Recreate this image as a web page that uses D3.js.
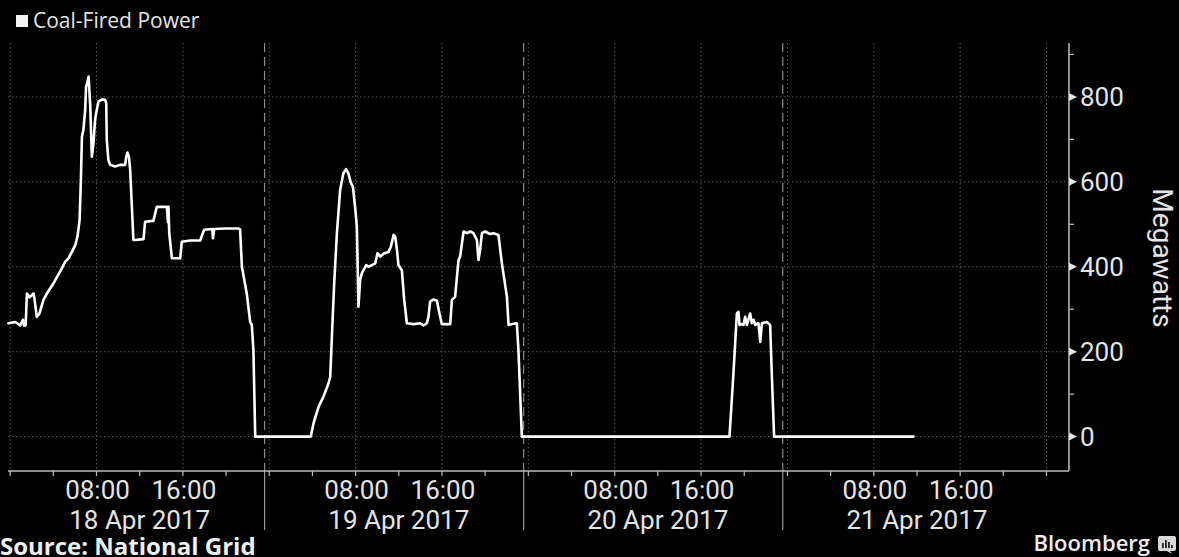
<!DOCTYPE html>
<html>
<head>
<meta charset="utf-8">
<script src="https://cdn.jsdelivr.net/npm/d3@7"></script>
<style>
  html, body { margin: 0; padding: 0; background: #000; }
  svg { display: block; }
  text { font-family: "Open Sans", "Noto Sans", sans-serif; }
  text.axis-label { font-family: Roboto, "Open Sans", sans-serif; }
</style>
</head>
<body>
<svg id="chart" width="1179" height="557"></svg>
<script>
// Coal-fired generation on the GB grid, 18–21 April 2017 (megawatts)
const seriesName = "Coal-Fired Power";

const readingTimes = [
  "2017-04-17 23:50", "2017-04-18 00:28", "2017-04-18 00:56", "2017-04-18 01:11", "2017-04-18 01:18",
  "2017-04-18 01:26", "2017-04-18 01:33", "2017-04-18 01:47", "2017-04-18 02:01", "2017-04-18 02:10",
  "2017-04-18 02:15", "2017-04-18 02:28", "2017-04-18 02:43", "2017-04-18 03:05", "2017-04-18 03:24",
  "2017-04-18 04:01", "2017-04-18 04:47", "2017-04-18 05:06", "2017-04-18 05:24", "2017-04-18 05:43",
  "2017-04-18 06:02", "2017-04-18 06:14", "2017-04-18 06:26", "2017-04-18 06:33", "2017-04-18 06:39",
  "2017-04-18 06:47", "2017-04-18 06:57", "2017-04-18 07:02", "2017-04-18 07:10", "2017-04-18 07:16",
  "2017-04-18 07:25", "2017-04-18 07:34", "2017-04-18 07:43", "2017-04-18 07:52", "2017-04-18 07:58",
  "2017-04-18 08:11", "2017-04-18 08:30", "2017-04-18 08:48", "2017-04-18 08:54", "2017-04-18 08:57",
  "2017-04-18 09:06", "2017-04-18 09:16", "2017-04-18 09:44", "2017-04-18 10:11", "2017-04-18 10:39",
  "2017-04-18 10:45", "2017-04-18 10:52", "2017-04-18 11:00", "2017-04-18 11:07", "2017-04-18 11:25",
  "2017-04-18 11:35", "2017-04-18 12:21", "2017-04-18 12:30", "2017-04-18 13:16", "2017-04-18 13:35",
  "2017-04-18 14:31", "2017-04-18 14:37", "2017-04-18 14:40", "2017-04-18 14:44", "2017-04-18 14:59",
  "2017-04-18 15:45", "2017-04-18 15:54", "2017-04-18 16:40", "2017-04-18 17:36", "2017-04-18 17:58",
  "2017-04-18 18:43", "2017-04-18 18:47", "2017-04-18 18:54", "2017-04-18 19:55", "2017-04-18 21:09",
  "2017-04-18 21:18", "2017-04-18 21:28", "2017-04-18 21:55", "2017-04-18 22:14", "2017-04-18 22:23",
  "2017-04-18 22:32", "2017-04-18 22:42",
  "2017-04-19 03:51", "2017-04-19 04:06", "2017-04-19 04:34", "2017-04-19 05:01", "2017-04-19 05:29",
  "2017-04-19 05:39", "2017-04-19 05:48", "2017-04-19 06:01", "2017-04-19 06:16", "2017-04-19 06:34",
  "2017-04-19 06:52", "2017-04-19 07:07", "2017-04-19 07:20", "2017-04-19 07:34", "2017-04-19 07:45",
  "2017-04-19 07:57", "2017-04-19 08:07", "2017-04-19 08:16", "2017-04-19 08:25", "2017-04-19 08:35",
  "2017-04-19 08:44", "2017-04-19 08:59", "2017-04-19 09:11", "2017-04-19 09:30", "2017-04-19 09:49",
  "2017-04-19 10:02", "2017-04-19 10:17", "2017-04-19 10:39", "2017-04-19 11:03", "2017-04-19 11:16",
  "2017-04-19 11:31", "2017-04-19 11:40", "2017-04-19 11:50", "2017-04-19 11:58", "2017-04-19 12:17",
  "2017-04-19 12:30", "2017-04-19 12:45", "2017-04-19 13:22", "2017-04-19 13:59", "2017-04-19 14:17",
  "2017-04-19 14:36", "2017-04-19 14:45", "2017-04-19 14:54", "2017-04-19 15:13", "2017-04-19 15:32",
  "2017-04-19 15:46", "2017-04-19 15:59", "2017-04-19 16:46", "2017-04-19 16:55", "2017-04-19 17:13",
  "2017-04-19 17:32", "2017-04-19 17:41", "2017-04-19 18:00", "2017-04-19 18:18", "2017-04-19 18:37",
  "2017-04-19 18:55", "2017-04-19 19:14", "2017-04-19 19:23", "2017-04-19 19:32", "2017-04-19 19:42",
  "2017-04-19 20:00", "2017-04-19 20:28", "2017-04-19 20:46", "2017-04-19 21:14", "2017-04-19 21:33",
  "2017-04-19 22:01", "2017-04-19 22:10", "2017-04-19 22:30", "2017-04-19 22:56", "2017-04-19 23:05",
  "2017-04-19 23:24",
  "2017-04-20 18:38", "2017-04-20 19:00", "2017-04-20 19:19", "2017-04-20 19:28", "2017-04-20 19:34",
  "2017-04-20 19:47", "2017-04-20 19:56", "2017-04-20 20:05", "2017-04-20 20:15", "2017-04-20 20:33",
  "2017-04-20 20:42", "2017-04-20 20:52", "2017-04-20 21:01", "2017-04-20 21:19", "2017-04-20 21:29",
  "2017-04-20 21:38", "2017-04-20 22:06", "2017-04-20 22:24", "2017-04-20 22:33", "2017-04-20 22:46",
  "2017-04-21 11:41"
];

const coalMW = [
  267, 270, 262, 275, 261,
  262, 337, 328, 333, 337,
  325, 282, 290, 322, 337,
  361, 396, 412, 420, 435,
  451, 471, 510, 604, 706,
  722, 769, 824, 836, 848,
  780, 659, 691, 746, 762,
  789, 794, 793, 785, 699,
  651, 640, 636, 640, 640,
  659, 669, 659, 628, 463,
  463, 465, 506, 508, 541,
  541, 505, 541, 480, 420,
  420, 459, 462, 462, 487,
  489, 467, 489, 490, 490,
  488, 400, 337, 270, 263,
  204, 0,
  0, 31, 70, 94, 125,
  141, 235, 361, 479, 581,
  620, 630, 620, 597, 589,
  541, 494, 306, 369, 385,
  392, 404, 400, 404, 408,
  432, 424, 432, 435, 447,
  475, 471, 439, 404, 392,
  322, 267, 265, 267, 262,
  267, 282, 318, 323, 320,
  290, 265, 265, 322, 329,
  416, 424, 483, 479, 483,
  479, 463, 416, 440, 479,
  483, 477, 479, 475, 408,
  329, 263, 265, 267, 204,
  0,
  0, 149, 290, 294, 263,
  265, 263, 282, 263, 290,
  267, 275, 263, 267, 223,
  267, 270, 263, 149, 0,
  0
];

const axisStart = "2017-04-17 23:48";
const axisEnd = "2017-04-22 02:05";
const chartDays = ["2017-04-18", "2017-04-19", "2017-04-20", "2017-04-21"];
const dayLabels = ["18 Apr 2017", "19 Apr 2017", "20 Apr 2017", "21 Apr 2017"];
const hourLabels = ["08:00", "16:00"];
const yMajorTicks = [0, 200, 400, 600, 800];
const yMinorTicks = [100, 300, 500, 700, 900];
const yDomain = [-81, 927];
const yTitle = "Megawatts";
const sourceNote = "Source: National Grid";
const brand = "Bloomberg";

// ---- layout ----
const W = 1179, H = 557;
const plot = { left: 8, right: 1069, top: 43, bottom: 471 };
const separatorLeadMinutes = 26;   // day dividers sit just before midnight

const parseTime = d3.timeParse("%Y-%m-%d %H:%M");
const parseDay = d3.timeParse("%Y-%m-%d");

const series = readingTimes.map((t, i) => ({ t: parseTime(t), v: coalMW[i] }));

const x = d3.scaleTime()
  .domain([parseTime(axisStart), parseTime(axisEnd)])
  .range([plot.left, plot.right]);
const y = d3.scaleLinear().domain(yDomain).range([plot.bottom, plot.top]);

const svg = d3.select("#chart");
svg.append("rect").attr("width", W).attr("height", H).attr("fill", "#000");

const textColor = "#e4e4e4";

// ---- grid ----
const grid = svg.append("g");
grid.selectAll("line.hgrid").data(yMajorTicks).join("line")
  .attr("x1", plot.left).attr("x2", plot.right)
  .attr("y1", d => y(d)).attr("y2", d => y(d))
  .attr("stroke", "#5a5a5a").attr("stroke-width", 1).attr("stroke-dasharray", "1.5,2.5");

const [d0, d1] = x.domain();
const eightHour = d3.timeHour.every(8).range(d0, d1);
grid.selectAll("line.vgrid").data(eightHour).join("line")
  .attr("x1", d => x(d)).attr("x2", d => x(d))
  .attr("y1", plot.top).attr("y2", plot.bottom)
  .attr("stroke", "#5a5a5a").attr("stroke-width", 1).attr("stroke-dasharray", "1.5,2.5");

// day dividers: dashed inside the plot, solid through the label band
const dividers = chartDays.slice(1).map(d => d3.timeMinute.offset(parseDay(d), -separatorLeadMinutes));
grid.selectAll("line.divider").data(dividers).join("line")
  .attr("x1", d => x(d)).attr("x2", d => x(d))
  .attr("y1", plot.top).attr("y2", plot.bottom)
  .attr("stroke", "#8a8a8a").attr("stroke-width", 1.2).attr("stroke-dasharray", "9,5");
grid.selectAll("line.divider-low").data(dividers).join("line")
  .attr("x1", d => x(d)).attr("x2", d => x(d))
  .attr("y1", plot.bottom).attr("y2", plot.bottom + 59)
  .attr("stroke", "#9a9a9a").attr("stroke-width", 1.2);

// ---- series line ----
const line = d3.line().x(d => x(d.t)).y(d => y(d.v));
svg.append("path").datum(series)
  .attr("d", line)
  .attr("fill", "none")
  .attr("stroke", "#ffffff")
  .attr("stroke-width", 2.6)
  .attr("stroke-linejoin", "round")
  .attr("stroke-linecap", "round");

// ---- axes ----
const axisColor = "#bdbdbd";
svg.append("line")
  .attr("x1", plot.left).attr("x2", plot.right)
  .attr("y1", plot.bottom).attr("y2", plot.bottom)
  .attr("stroke", axisColor).attr("stroke-width", 1.5);
svg.append("line")
  .attr("x1", plot.right).attr("x2", plot.right)
  .attr("y1", plot.top).attr("y2", plot.bottom)
  .attr("stroke", axisColor).attr("stroke-width", 1.5);

// x ticks every four hours
const fourHour = d3.timeHour.every(4).range(d0, d1);
svg.selectAll("line.xtick").data(fourHour).join("line")
  .attr("x1", d => x(d)).attr("x2", d => x(d))
  .attr("y1", plot.bottom).attr("y2", plot.bottom + 5)
  .attr("stroke", axisColor).attr("stroke-width", 1.2);

// hour labels and day labels
chartDays.forEach((day, i) => {
  const base = parseDay(day);
  hourLabels.forEach(h => {
    const t = d3.timeHour.offset(base, +h.slice(0, 2));
    svg.append("text")
      .attr("class", "axis-label")
      .attr("x", x(t) + 1).attr("y", 499)
      .attr("text-anchor", "middle")
      .attr("fill", textColor).attr("font-size", 26)
      .text(h);
  });
  svg.append("text")
    .attr("class", "axis-label")
    .attr("x", x(d3.timeHour.offset(base, 12))).attr("y", 529)
    .attr("text-anchor", "middle")
    .attr("fill", textColor).attr("font-size", 26)
    .text(dayLabels[i]);
});

// y ticks: arrowheads on major values, short strokes on minor values
svg.selectAll("path.ymajor").data(yMajorTicks).join("path")
  .attr("d", d => `M${plot.right},${y(d) - 4}L${plot.right + 8},${y(d)}L${plot.right},${y(d) + 4}Z`)
  .attr("fill", textColor);
svg.selectAll("line.yminor").data(yMinorTicks).join("line")
  .attr("x1", plot.right).attr("x2", plot.right + 5)
  .attr("y1", d => y(d)).attr("y2", d => y(d))
  .attr("stroke", axisColor).attr("stroke-width", 1.2);
svg.selectAll("text.ylab").data(yMajorTicks).join("text")
  .attr("class", "axis-label")
  .attr("x", plot.right + 11).attr("y", d => y(d))
  .attr("dy", "0.36em")
  .attr("fill", textColor).attr("font-size", 26)
  .text(d => d3.format("d")(d));

svg.append("text")
  .attr("class", "axis-label")
  .attr("transform", `translate(1153,${(plot.top + plot.bottom) / 2 + 1}) rotate(90)`)
  .attr("text-anchor", "middle")
  .attr("fill", textColor).attr("font-size", 28)
  .text(yTitle);

// ---- legend ----
svg.append("rect").attr("x", 16).attr("y", 15).attr("width", 12).attr("height", 12).attr("fill", "#f2f2f2");
svg.append("text")
  .attr("x", 33).attr("y", 28)
  .attr("fill", textColor).attr("font-size", 21)
  .text(seriesName);

// ---- footer ----
svg.append("text")
  .attr("x", 0).attr("y", 555)
  .attr("fill", "#f0f0f0").attr("font-size", 24).attr("font-weight", 700)
  .text(sourceNote);

svg.append("text")
  .attr("x", 1150).attr("y", 551)
  .attr("text-anchor", "end")
  .attr("fill", "#f0f0f0").attr("font-size", 22).attr("font-weight", 600)
  .text(brand);

// small terminal-style logo mark
const logo = svg.append("g").attr("transform", "translate(1158,536)");
logo.append("path")
  .attr("d", "M2,0H16a2,2 0 0 1 2,2V13a2,2 0 0 1 -2,2H12L14,18L9,15H2a2,2 0 0 1 -2,-2V2a2,2 0 0 1 2,-2Z")
  .attr("fill", "#d8d8d8");
[[4, 7], [7, 4], [10, 6], [13, 9]].forEach(([bx, by]) => {
  logo.append("rect").attr("x", bx).attr("y", by).attr("width", 1.8).attr("height", 12 - by).attr("fill", "#222");
});
</script>
</body>
</html>
